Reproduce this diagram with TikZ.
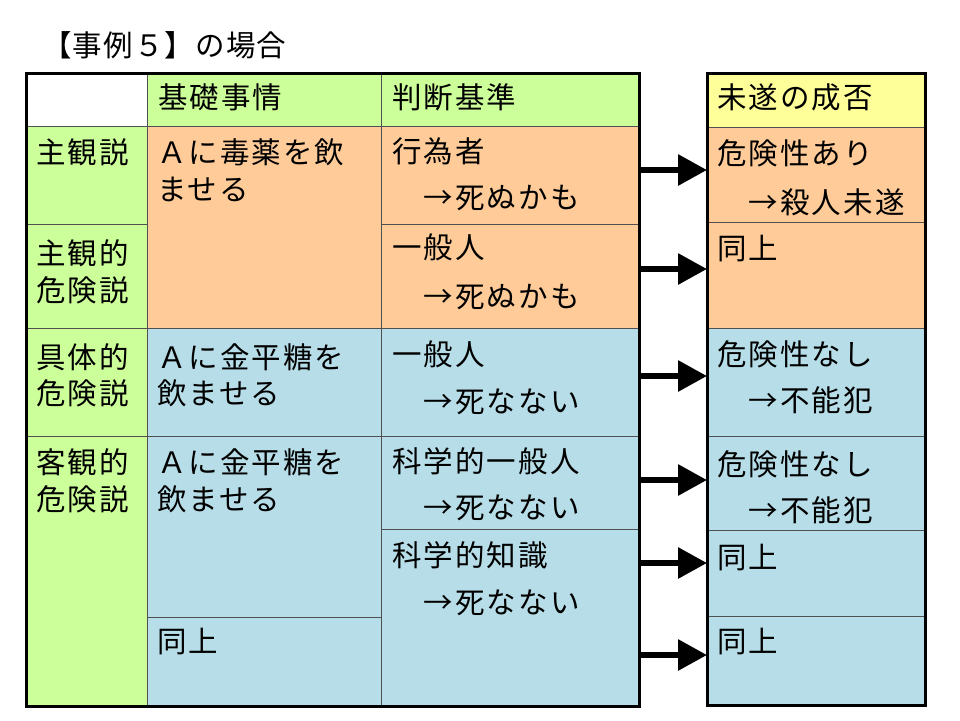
\documentclass[tikz,border=0pt]{standalone}
\usepackage{fontspec}
\setmainfont[LetterSpace=7]{Noto Sans CJK JP}
\usetikzlibrary{arrows.meta}
\definecolor{cgreen}{HTML}{CCFF99}
\definecolor{corange}{HTML}{FFCC99}
\definecolor{cyellow}{HTML}{FFFF99}
\definecolor{cblue}{HTML}{B7DEE8}
\definecolor{cline}{HTML}{505050}
\newcommand{\cellbox}[6]{%
  \node[cellsty, fill=#6, minimum width={#4-#2}, minimum height={#5-#3}, anchor=north west] (#1) at (#2,#3) {};}
\begin{document}
\begin{tikzpicture}[x=1pt,y=-1pt,
  cellsty/.style={draw=cline, line width=1pt, inner sep=0pt, outer sep=0pt},
  txt/.style={anchor=base west, inner sep=0pt, font=\fontsize{29.5}{35}\selectfont},
  frame/.style={draw=black, line width=3pt},
  bigarrow/.style={line width=6pt, -{Triangle[length=29pt, width=30pt]}}]
\useasboundingbox (0,0) rectangle (960,720);
\fill[white] (0,0) rectangle (960,720);
% main table cells
\cellbox{h0}{26}{73}{147}{126}{white}
\cellbox{h1}{147}{73}{381}{126}{cgreen}
\cellbox{h2}{381}{73}{639}{126}{cgreen}
\cellbox{a1}{26}{126}{147}{224}{cgreen}
\cellbox{a2}{26}{224}{147}{328}{cgreen}
\cellbox{a3}{26}{328}{147}{436}{cgreen}
\cellbox{a4}{26}{436}{147}{706}{cgreen}
\cellbox{b1}{147}{126}{381}{328}{corange}
\cellbox{b2}{147}{328}{381}{436}{cblue}
\cellbox{b3}{147}{436}{381}{617}{cblue}
\cellbox{b4}{147}{617}{381}{706}{cblue}
\cellbox{c1}{381}{126}{639}{224}{corange}
\cellbox{c2}{381}{224}{639}{328}{corange}
\cellbox{c3}{381}{328}{639}{436}{cblue}
\cellbox{c4}{381}{436}{639}{529}{cblue}
\cellbox{c5}{381}{529}{639}{706}{cblue}
% right table cells
\cellbox{d0}{707}{73}{925}{127}{cyellow}
\cellbox{d1}{707}{127}{925}{222}{corange}
\cellbox{d2}{707}{222}{925}{328}{corange}
\cellbox{d3}{707}{328}{925}{436}{cblue}
\cellbox{d4}{707}{436}{925}{530}{cblue}
\cellbox{d5}{707}{530}{925}{616}{cblue}
\cellbox{d6}{707}{616}{925}{705}{cblue}
% frames
\draw[frame] (26,73) rectangle (639,706);
\draw[frame] (707,73) rectangle (925,705);
% title
\node[txt, font=\fontsize{29.5}{35}\selectfont\addfontfeature{LetterSpace=4}] (title) at (42,56) {【事例５】の場合};
% headers
\node[txt] (th1) at (158,108.5) {基礎事情};
\node[txt] (th2) at (392,108.5) {判断基準};
\node[txt] (th3) at (717,108) {未遂の成否};
% column 1
\node[txt] (s1) at (36,163) {主観説};
\node[txt] (s2a) at (36,264) {主観的};
\node[txt] (s2b) at (36,301) {危険説};
\node[txt] (s3a) at (36,368) {具体的};
\node[txt] (s3b) at (36,404) {危険説};
\node[txt] (s4a) at (36,473.5) {客観的};
\node[txt] (s4b) at (36,510) {危険説};
% column 2
\node[txt] (f1a) at (157,163.5) {Ａに毒薬を飲};
\node[txt] (f1b) at (157,200) {ませる};
\node[txt] (f2a) at (157,368) {Ａに金平糖を};
\node[txt] (f2b) at (157,404) {飲ませる};
\node[txt] (f3a) at (157,473.5) {Ａに金平糖を};
\node[txt] (f3b) at (157,510) {飲ませる};
\node[txt] (f4) at (157,652.5) {同上};
% column 3
\node[txt] (j1a) at (392,162.5) {行為者};
\node[txt] (j1b) at (392,208) {　→死ぬかも};
\node[txt] (j2a) at (392,258.5) {一般人};
\node[txt] (j2b) at (392,307) {　→死ぬかも};
\node[txt] (j3a) at (392,365) {一般人};
\node[txt] (j3b) at (392,412.5) {　→死なない};
\node[txt] (j4a) at (392,472) {科学的一般人};
\node[txt] (j4b) at (392,518.5) {　→死なない};
\node[txt] (j5a) at (392,566) {科学的知識};
\node[txt] (j5b) at (392,613.5) {　→死なない};
% right column
\node[txt] (r1a) at (717,164) {危険性あり};
\node[txt] (r1b) at (717,213.5) {　→殺人未遂};
\node[txt] (r2) at (717,259) {同上};
\node[txt] (r3a) at (717,365) {危険性なし};
\node[txt] (r3b) at (717,411) {　→不能犯};
\node[txt] (r4a) at (717,475) {危険性なし};
\node[txt] (r4b) at (717,521) {　→不能犯};
\node[txt] (r5) at (717,568.5) {同上};
\node[txt] (r6) at (717,652.5) {同上};
% arrows
\coordinate (y1) at (0,170);
\coordinate (y2) at (0,269);
\coordinate (y3) at (0,376);
\coordinate (y4) at (0,480);
\coordinate (y5) at (0,563);
\coordinate (y6) at (0,655);
\draw[bigarrow] (c1.east |- y1) -- (d1.west |- y1);
\draw[bigarrow] (c2.east |- y2) -- (d2.west |- y2);
\draw[bigarrow] (c3.east |- y3) -- (d3.west |- y3);
\draw[bigarrow] (c4.east |- y4) -- (d4.west |- y4);
\draw[bigarrow] (c5.east |- y5) -- (d5.west |- y5);
\draw[bigarrow] (c5.east |- y6) -- (d6.west |- y6);
\end{tikzpicture}
\end{document}
